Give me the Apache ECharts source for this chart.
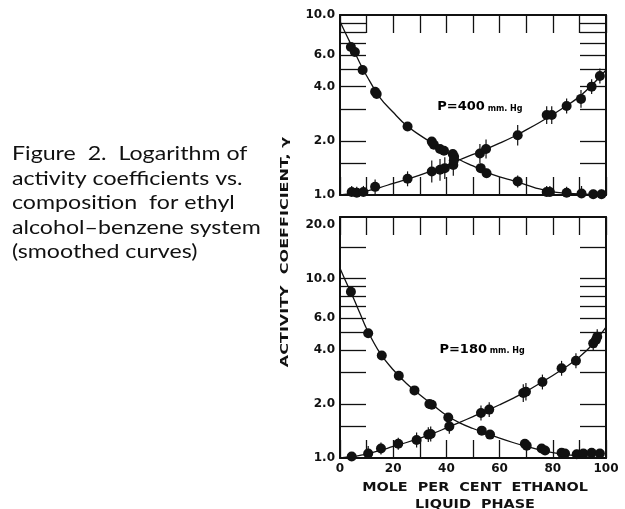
<!DOCTYPE html>
<html><head><meta charset="utf-8">
<script src="https://cdn.jsdelivr.net/npm/echarts@6/dist/echarts.min.js"></script>
<style>html,body{margin:0;padding:0;background:#fff}#c{width:625px;height:509px}</style>
</head><body><div id="c"></div>
<script>
// ---------- data ----------
const captionLines = ['Figure  2.  Logarithm of', 'activity coefficients vs.', 'composition  for ethyl', 'alcohol\u2013benzene system', '(smoothed curves)'];
const yTitle = 'ACTIVITY  COEFFICIENT, \u03b3';
const xTitle1 = 'MOLE  PER  CENT  ETHANOL';
const xTitle2 = 'LIQUID  PHASE';
const topNote = 'P=400';
const botNote = 'P=180';
const noteUnit = 'mm. Hg';

const xLabelVals = [0, 20, 40, 60, 80, 100];
const topYLabelVals = [1, 2, 4, 6, 10];
const botYLabelVals = [1, 2, 4, 6, 10, 20];
const topYTickVals = [1.5, 2, 3, 4, 5, 6, 7, 8, 9];
const botYTickVals = [1.5, 2, 3, 4, 5, 6, 7, 8, 9, 10, 15];
const topYMax = 10;
const botYMax = 22;

// smoothed curves
const curveX = [0, 2.5, 5, 7.5, 10, 15, 20, 25, 30, 35, 40, 45, 50, 55, 60, 65, 70, 75, 80, 85, 90, 95, 100];
const topDecCurve = [9.2, 7.7, 6.45, 5.4, 4.6, 3.48, 2.88, 2.43, 2.15, 1.93, 1.73, 1.57, 1.45, 1.34, 1.26, 1.2, 1.14, 1.08, 1.04, 1.025, 1.013, 1.005, 1.0];
const topIncCurve = [1.0, 1.01, 1.02, 1.035, 1.05, 1.1, 1.16, 1.22, 1.29, 1.37, 1.46, 1.57, 1.68, 1.8, 1.94, 2.1, 2.3, 2.53, 2.8, 3.12, 3.52, 4.12, 4.95];
const botDecCurve = [11.4, 9.4, 7.8, 6.4, 5.25, 3.85, 3.1, 2.6, 2.25, 1.97, 1.73, 1.57, 1.46, 1.37, 1.29, 1.22, 1.16, 1.11, 1.07, 1.045, 1.025, 1.01, 1.0];
const botIncCurve = [1.0, 1.01, 1.02, 1.035, 1.05, 1.1, 1.16, 1.22, 1.29, 1.37, 1.47, 1.58, 1.7, 1.83, 1.98, 2.15, 2.35, 2.6, 2.88, 3.22, 3.65, 4.3, 5.35];

// experimental points (x, gamma, error factor)
const tdX = [4.1, 5.6, 8.5, 13.2, 13.8, 25.4, 34.5, 35.3, 37.6, 39.1, 42.4, 42.9, 52.9, 55.1, 66.8, 77.7, 78.9, 85.2, 90.8, 95.2, 98.3];
const tdY = [6.64, 6.23, 4.95, 3.75, 3.64, 2.40, 1.98, 1.90, 1.80, 1.76, 1.69, 1.63, 1.41, 1.32, 1.19, 1.04, 1.04, 1.03, 1.02, 1.01, 1.01];
const tdE = [1.02, 1.02, 1.02, 1.03, 1.03, 1.04, 1.05, 1.05, 1.05, 1.05, 1.06, 1.06, 1.06, 1.06, 1.08, 1.08, 1.08, 1.08, 1.10, 1.06, 1.06];
const tiX = [4.4, 6.3, 8.8, 13.2, 25.4, 34.5, 37.6, 39.4, 42.6, 42.8, 52.6, 54.9, 66.8, 77.7, 79.6, 85.2, 90.6, 94.6, 97.7];
const tiY = [1.04, 1.03, 1.04, 1.11, 1.23, 1.35, 1.38, 1.41, 1.47, 1.56, 1.70, 1.80, 2.15, 2.78, 2.78, 3.12, 3.42, 4.0, 4.58];
const tiE = [1.08, 1.08, 1.08, 1.10, 1.10, 1.15, 1.15, 1.15, 1.15, 1.12, 1.13, 1.13, 1.14, 1.12, 1.12, 1.10, 1.12, 1.10, 1.10];
const bdX = [4.1, 10.6, 15.7, 22.1, 28.0, 33.6, 34.5, 40.7, 53.3, 56.4, 69.5, 70.2, 75.8, 77.1, 83.3, 84.6, 89.0, 91.5, 94.6, 97.7];
const bdY = [8.43, 4.95, 3.72, 2.87, 2.38, 2.00, 1.98, 1.68, 1.42, 1.35, 1.20, 1.17, 1.13, 1.10, 1.07, 1.06, 1.05, 1.06, 1.07, 1.06];
const bdE = [1.02, 1.02, 1.02, 1.02, 1.02, 1.02, 1.02, 1.03, 1.04, 1.04, 1.06, 1.06, 1.06, 1.06, 1.06, 1.06, 1.06, 1.06, 1.06, 1.06];
const biX = [4.4, 10.6, 15.4, 21.9, 28.8, 33.2, 34.1, 41.1, 53.0, 56.1, 68.9, 69.9, 76.1, 83.3, 88.7, 95.2, 96.2, 96.7];
const biY = [1.02, 1.06, 1.13, 1.20, 1.26, 1.35, 1.36, 1.50, 1.78, 1.86, 2.30, 2.34, 2.65, 3.16, 3.48, 4.35, 4.54, 4.74];
const biE = [1.05, 1.10, 1.08, 1.08, 1.10, 1.10, 1.10, 1.10, 1.10, 1.10, 1.12, 1.12, 1.10, 1.10, 1.10, 1.10, 1.10, 1.10];

// ---------- chart ----------
const L = Math.log10;
const INK = '#111';
const FONT = 'DejaVu Sans';

function pairs(xs, ys) { return xs.map((x, i) => [x, L(ys[i])]); }
function errs(xs, ys, es) { return xs.map((x, i) => [x, L(ys[i] / es[i]), L(ys[i] * es[i])]); }

function errRender(params, api) {
  const x = api.value(0);
  const p1 = api.coord([x, api.value(1)]);
  const p2 = api.coord([x, api.value(2)]);
  return { type: 'line', shape: { x1: p1[0], y1: p1[1], x2: p2[0], y2: p2[1] },
           style: { stroke: INK, lineWidth: 1.2 } };
}

function xAxisDef(grid, pos, labels) {
  return {
    type: 'value', gridIndex: grid, position: pos, min: 0, max: 100, interval: 10,
    axisLine: { show: true, onZero: false, lineStyle: { color: INK, width: 2 } },
    axisTick: { show: true, inside: true, length: 18, lineStyle: { color: INK, width: 1.3 } },
    axisLabel: labels ? { show: true, customValues: xLabelVals, margin: 5, color: INK,
      fontFamily: FONT, fontWeight: 'bold', fontSize: 12 } : { show: false },
    splitLine: { show: false }
  };
}
function yAxisDef(grid, pos, maxV, tickVals, labelVals) {
  return {
    type: 'value', gridIndex: grid, position: pos, min: 0, max: L(maxV),
    axisLine: { show: true, onZero: false, lineStyle: { color: INK, width: 2 } },
    axisTick: { show: true, inside: true, length: 26, customValues: tickVals.map(L),
      lineStyle: { color: INK, width: 1.3 } },
    axisLabel: labelVals ? { show: true, customValues: labelVals.map(L), margin: 5, color: INK,
      fontFamily: FONT, fontWeight: 'bold', fontSize: 12,
      formatter: v => Math.pow(10, v).toFixed(1) } : { show: false },
    splitLine: { show: false }
  };
}

function line(xi, yi, ys) {
  return { type: 'line', xAxisIndex: xi, yAxisIndex: yi, data: pairs(curveX, ys), smooth: 0.4,
    showSymbol: false, silent: true, lineStyle: { color: INK, width: 1.3 }, z: 3 };
}
function pts(xi, yi, xs, ys) {
  return { type: 'scatter', xAxisIndex: xi, yAxisIndex: yi, data: pairs(xs, ys), symbolSize: 10,
    itemStyle: { color: INK, opacity: 1 }, z: 4 };
}
function bars(xi, yi, xs, ys, es) {
  return { type: 'custom', xAxisIndex: xi, yAxisIndex: yi, data: errs(xs, ys, es), renderItem: errRender,
    encode: { x: 0, y: [1, 2] }, clip: true, z: 4 };
}
function note(xi, yi, x, y, txt) {
  return { type: 'scatter', xAxisIndex: xi, yAxisIndex: yi, data: [[x, L(y)]], symbolSize: 0, silent: true,
    itemStyle: { opacity: 1 },
    label: { show: true, position: 'inside', opacity: 1, formatter: '{a|' + txt + '}{b| ' + noteUnit + '}',
      rich: { a: { fontFamily: FONT, fontWeight: 'bold', fontSize: 13, color: '#000' },
              b: { fontFamily: FONT, fontWeight: 'bold', fontSize: 8, color: '#000', padding: [3, 0, 0, 0] } } } };
}

const chart = echarts.init(document.getElementById('c'), null, { renderer: 'canvas' });
chart.setOption({
  backgroundColor: '#fff',
  animation: false,
  grid: [
    { left: 340, top: 15, width: 266, height: 180 },
    { left: 340, top: 217, width: 266, height: 241 }
  ],
  xAxis: [xAxisDef(0, 'bottom', false), xAxisDef(0, 'top', false), xAxisDef(1, 'bottom', true), xAxisDef(1, 'top', false)],
  yAxis: [
    yAxisDef(0, 'left', topYMax, topYTickVals, topYLabelVals),
    yAxisDef(0, 'right', topYMax, topYTickVals, null),
    yAxisDef(1, 'left', botYMax, botYTickVals, botYLabelVals),
    yAxisDef(1, 'right', botYMax, botYTickVals, null)
  ],
  series: [
    line(0, 0, topDecCurve), line(0, 0, topIncCurve),
    bars(0, 0, tdX, tdY, tdE), bars(0, 0, tiX, tiY, tiE),
    pts(0, 0, tdX, tdY), pts(0, 0, tiX, tiY),
    line(2, 2, botDecCurve), line(2, 2, botIncCurve),
    bars(2, 2, bdX, bdY, bdE), bars(2, 2, biX, biY, biE),
    pts(2, 2, bdX, bdY), pts(2, 2, biX, biY),
    note(0, 0, 52.6, 3.08, topNote),
    note(2, 2, 53.4, 4.0, botNote)
  ],
  graphic: [
    { type: 'text', x: 12, y: 142, scaleX: 1.22, scaleY: 1, style: { text: captionLines.join('\n'), fill: INK,
        font: '19px Lato', lineHeight: 24.5 } },
    { type: 'text', x: 285, y: 252, rotation: Math.PI / 2, scaleX: 1.6, scaleY: 1,
      style: { text: yTitle, fill: INK, font: 'bold 10px "DejaVu Sans"', align: 'center', verticalAlign: 'middle' } },
    { type: 'text', x: 475, y: 488, scaleX: 1.2, scaleY: 1, style: { text: xTitle1, fill: INK, font: 'bold 12px "DejaVu Sans"', align: 'center', verticalAlign: 'middle' } },
    { type: 'text', x: 475, y: 505, scaleX: 1.2, scaleY: 1, style: { text: xTitle2, fill: INK, font: 'bold 12px "DejaVu Sans"', align: 'center', verticalAlign: 'middle' } }
  ]
});
</script></body></html>
